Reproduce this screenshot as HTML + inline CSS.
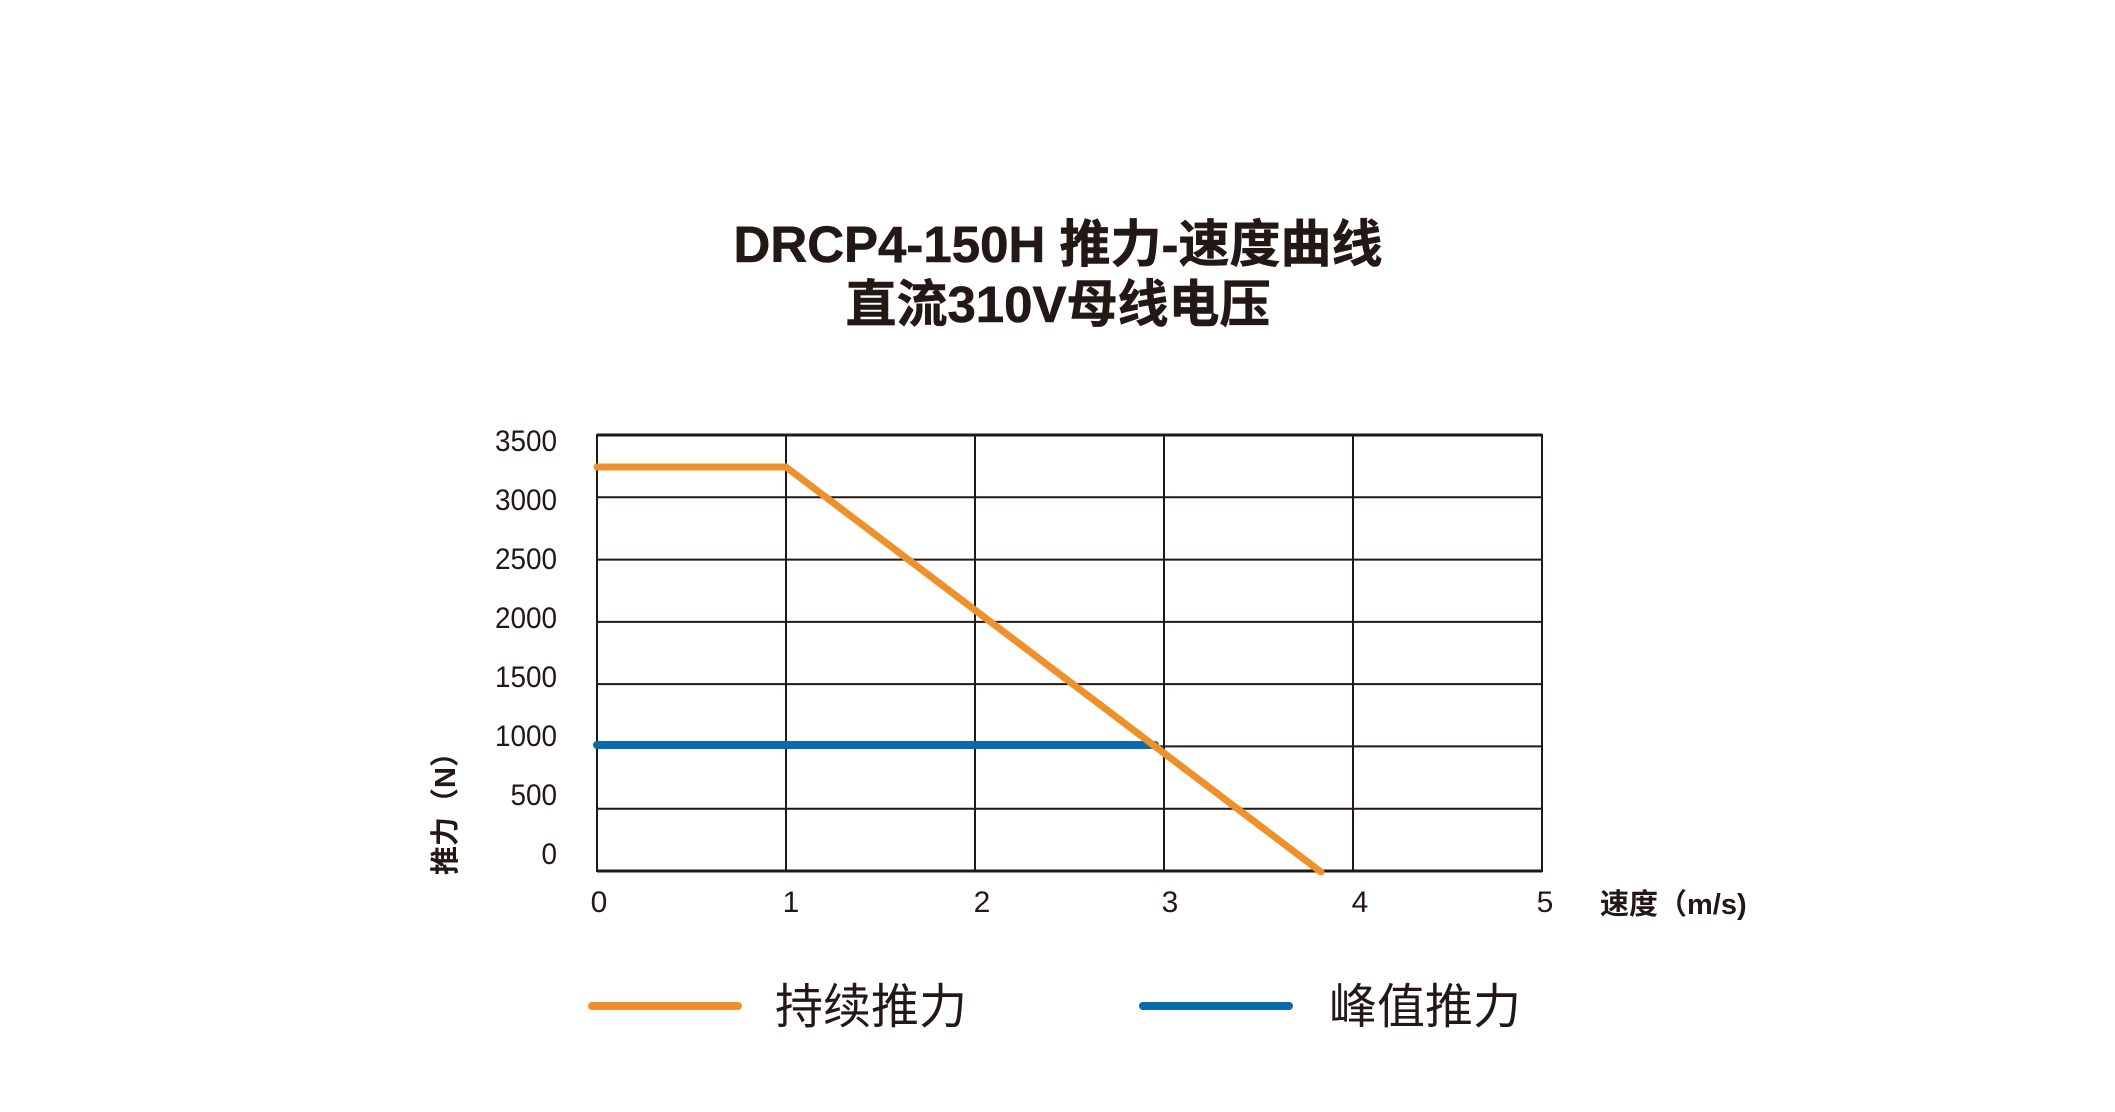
<!DOCTYPE html>
<html><head><meta charset="utf-8"><style>
body{margin:0;background:#fff;}
svg text{fill:#231815;}
</style></head><body>
<svg width="2115" height="1107" viewBox="0 0 2115 1107" xmlns="http://www.w3.org/2000/svg">
<g font-family="Liberation Sans, Noto Sans CJK SC, sans-serif" font-weight="bold" font-size="51" text-anchor="middle" stroke="#231815" stroke-width="0.6">
<text x="1058" y="262">DRCP4-150H 推力-速度曲线</text>
<text x="1058" y="322">直流310V母线电压</text>
</g>
<g stroke="#231815" stroke-width="2">
<line x1="597" y1="435" x2="1542" y2="435" stroke-width="3"/>
<line x1="597" y1="497.3" x2="1542" y2="497.3"/>
<line x1="597" y1="559.6" x2="1542" y2="559.6"/>
<line x1="597" y1="621.9" x2="1542" y2="621.9"/>
<line x1="597" y1="684.1" x2="1542" y2="684.1"/>
<line x1="597" y1="746.4" x2="1542" y2="746.4"/>
<line x1="597" y1="808.7" x2="1542" y2="808.7"/>
<line x1="597" y1="871" x2="1542" y2="871" stroke-width="3"/>
<line x1="597" y1="434" x2="597" y2="872"/>
<line x1="786" y1="434" x2="786" y2="872"/>
<line x1="975" y1="434" x2="975" y2="872"/>
<line x1="1164" y1="434" x2="1164" y2="872"/>
<line x1="1353" y1="434" x2="1353" y2="872"/>
<line x1="1542" y1="434" x2="1542" y2="872"/>
</g>
<line x1="597" y1="745" x2="1155" y2="745" stroke="#0a6aae" stroke-width="8" stroke-linecap="round"/>
<polyline points="597,467 786,467 1321,872" fill="none" stroke="#ee912a" stroke-width="7" stroke-linecap="round" stroke-linejoin="round"/>
<g font-family="Liberation Sans, sans-serif" font-size="30" text-anchor="end">
<text x="557" y="451" transform="translate(557 0) scale(0.93 1) translate(-557 0)">3500</text>
<text x="557" y="510" transform="translate(557 0) scale(0.93 1) translate(-557 0)">3000</text>
<text x="557" y="569" transform="translate(557 0) scale(0.93 1) translate(-557 0)">2500</text>
<text x="557" y="628" transform="translate(557 0) scale(0.93 1) translate(-557 0)">2000</text>
<text x="557" y="687" transform="translate(557 0) scale(0.93 1) translate(-557 0)">1500</text>
<text x="557" y="746" transform="translate(557 0) scale(0.93 1) translate(-557 0)">1000</text>
<text x="557" y="805" transform="translate(557 0) scale(0.93 1) translate(-557 0)">500</text>
<text x="557" y="864" transform="translate(557 0) scale(0.93 1) translate(-557 0)">0</text>
</g>
<g font-family="Liberation Sans, sans-serif" font-size="30" text-anchor="middle">
<text x="599" y="912">0</text>
<text x="791" y="912">1</text>
<text x="982" y="912">2</text>
<text x="1170" y="912">3</text>
<text x="1360" y="912">4</text>
<text x="1545" y="912">5</text>
</g>
<text x="1600" y="914" font-family="Liberation Sans, Noto Sans CJK SC, sans-serif" font-weight="bold" font-size="29">速度（m/s)</text>
<text transform="translate(455 875) rotate(-90)" font-family="Liberation Sans, Noto Sans CJK SC, sans-serif" font-weight="bold" font-size="29">推力（N）</text>
<line x1="592" y1="1006" x2="738" y2="1006" stroke="#ee912a" stroke-width="8" stroke-linecap="round"/>
<line x1="1143" y1="1006" x2="1289" y2="1006" stroke="#0a6aae" stroke-width="8" stroke-linecap="round"/>
<g font-family="Liberation Sans, Noto Sans CJK SC, sans-serif" font-size="48">
<text x="775" y="1023">持续推力</text>
<text x="1329" y="1023">峰值推力</text>
</g>
</svg>
</body></html>
